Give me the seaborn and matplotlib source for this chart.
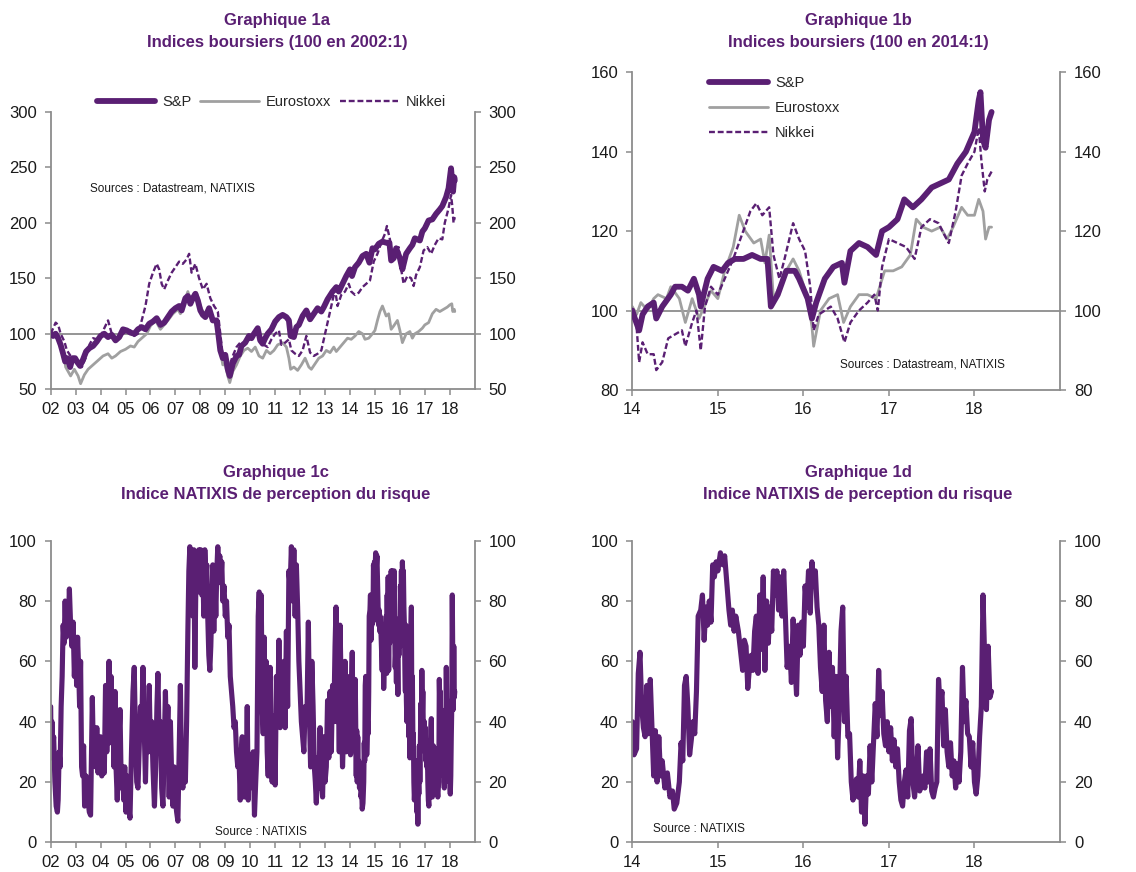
import pandas as pd
import seaborn as sns
import matplotlib.pyplot as plt

## Colours
PURPLE = '#5A1F73'
GREY = '#A0A0A0'
AXIS = '#8C8C8C'

## Graphique 1a : indices, 100 en 2002:1  (year, value)
sp_a = [(2002.00, 100), (2002.10, 98), (2002.20, 100), (2002.30, 96), (2002.40, 90), (2002.50, 82),
        (2002.58, 75), (2002.68, 78), (2002.78, 70), (2002.88, 78), (2002.98, 78), (2003.08, 74),
        (2003.18, 71), (2003.30, 77), (2003.42, 84), (2003.55, 87), (2003.70, 89), (2003.85, 93),
        (2004.00, 98), (2004.15, 100), (2004.30, 97), (2004.45, 99), (2004.60, 94), (2004.75, 97),
        (2004.90, 104), (2005.05, 103), (2005.20, 101), (2005.35, 100), (2005.50, 104), (2005.65, 106),
        (2005.80, 104), (2005.95, 109), (2006.10, 111), (2006.25, 114), (2006.40, 108), (2006.55, 110),
        (2006.70, 115), (2006.85, 120), (2007.00, 123), (2007.15, 125), (2007.25, 121), (2007.40, 132),
        (2007.50, 134), (2007.60, 127), (2007.70, 132), (2007.80, 136), (2007.90, 130), (2008.00, 121),
        (2008.10, 117), (2008.20, 115), (2008.35, 123), (2008.50, 112), (2008.65, 112), (2008.72, 100),
        (2008.80, 85), (2008.90, 78), (2009.00, 81), (2009.10, 68), (2009.18, 62), (2009.30, 73),
        (2009.45, 80), (2009.55, 81), (2009.65, 89), (2009.80, 92), (2009.95, 98), (2010.05, 96),
        (2010.15, 100), (2010.30, 105), (2010.40, 94), (2010.50, 91), (2010.60, 96), (2010.70, 100),
        (2010.85, 104), (2011.00, 111), (2011.15, 115), (2011.30, 117), (2011.45, 115), (2011.55, 112),
        (2011.62, 98), (2011.75, 97), (2011.85, 106), (2011.95, 108), (2012.10, 116), (2012.25, 121),
        (2012.40, 113), (2012.55, 118), (2012.70, 123), (2012.85, 120), (2012.95, 124), (2013.10, 131),
        (2013.30, 138), (2013.45, 142), (2013.55, 138), (2013.70, 145), (2013.85, 152), (2014.00, 158),
        (2014.08, 152), (2014.20, 160), (2014.35, 164), (2014.50, 170), (2014.65, 172), (2014.78, 164),
        (2014.90, 177), (2015.00, 176), (2015.15, 181), (2015.30, 183), (2015.45, 182), (2015.58, 182),
        (2015.65, 166), (2015.75, 168), (2015.85, 177), (2016.00, 168), (2016.10, 158), (2016.25, 172),
        (2016.40, 177), (2016.50, 180), (2016.60, 186), (2016.80, 184), (2016.90, 192), (2017.00, 195),
        (2017.15, 202), (2017.30, 203), (2017.45, 208), (2017.60, 212), (2017.70, 215), (2017.85, 223),
        (2017.95, 231), (2018.05, 249), (2018.10, 236), (2018.13, 228), (2018.18, 241), (2018.20, 238)]

euro_a = [(2002.00, 100), (2002.15, 101), (2002.30, 98), (2002.42, 90), (2002.50, 85), (2002.60, 70),
          (2002.70, 66), (2002.80, 62), (2002.95, 68), (2003.10, 62), (2003.20, 55), (2003.35, 63),
          (2003.50, 68), (2003.70, 72), (2003.90, 76), (2004.10, 80), (2004.30, 82), (2004.45, 78),
          (2004.60, 80), (2004.80, 84), (2005.00, 86), (2005.20, 89), (2005.35, 88), (2005.50, 93),
          (2005.70, 97), (2005.85, 100), (2006.00, 107), (2006.20, 112), (2006.40, 104), (2006.55, 108),
          (2006.70, 112), (2006.90, 118), (2007.10, 122), (2007.20, 118), (2007.35, 128), (2007.50, 138),
          (2007.60, 130), (2007.75, 136), (2007.85, 137), (2008.00, 125), (2008.15, 118), (2008.30, 122),
          (2008.45, 115), (2008.60, 110), (2008.72, 100), (2008.80, 85), (2008.90, 72), (2009.00, 72),
          (2009.10, 62), (2009.18, 56), (2009.30, 66), (2009.45, 72), (2009.60, 80), (2009.75, 85),
          (2009.90, 87), (2010.05, 84), (2010.20, 88), (2010.35, 80), (2010.50, 78), (2010.65, 85),
          (2010.80, 82), (2010.95, 85), (2011.10, 90), (2011.30, 92), (2011.45, 88), (2011.55, 78),
          (2011.62, 68), (2011.75, 70), (2011.90, 67), (2012.05, 72), (2012.20, 78), (2012.35, 70),
          (2012.45, 68), (2012.60, 73), (2012.75, 78), (2012.90, 80), (2013.05, 85), (2013.20, 83),
          (2013.35, 88), (2013.45, 84), (2013.60, 88), (2013.75, 92), (2013.90, 96), (2014.05, 95),
          (2014.20, 98), (2014.35, 102), (2014.50, 100), (2014.60, 95), (2014.75, 96), (2014.90, 100),
          (2015.00, 103), (2015.10, 112), (2015.20, 120), (2015.30, 125), (2015.45, 116), (2015.55, 118),
          (2015.65, 104), (2015.75, 107), (2015.90, 112), (2016.00, 103), (2016.10, 92), (2016.25, 100),
          (2016.40, 102), (2016.50, 96), (2016.60, 100), (2016.75, 102), (2016.90, 105), (2017.00, 108),
          (2017.15, 110), (2017.30, 118), (2017.45, 122), (2017.60, 120), (2017.75, 122), (2017.90, 124),
          (2018.00, 126), (2018.08, 127), (2018.12, 120), (2018.18, 122), (2018.20, 120)]

nikkei_a = [(2002.00, 100), (2002.10, 105), (2002.20, 110), (2002.30, 108), (2002.40, 100), (2002.55, 93),
            (2002.65, 85), (2002.80, 80), (2002.95, 78), (2003.10, 76), (2003.25, 70), (2003.40, 78),
            (2003.55, 90), (2003.70, 96), (2003.85, 95), (2004.00, 97), (2004.15, 105), (2004.30, 112),
            (2004.45, 100), (2004.60, 97), (2004.75, 96), (2004.90, 100), (2005.05, 102), (2005.20, 103),
            (2005.35, 98), (2005.50, 100), (2005.65, 112), (2005.80, 125), (2005.95, 145), (2006.10, 155),
            (2006.25, 163), (2006.35, 158), (2006.45, 145), (2006.55, 140), (2006.70, 148), (2006.85, 155),
            (2007.00, 160), (2007.15, 165), (2007.30, 163), (2007.45, 167), (2007.55, 172), (2007.65, 155),
            (2007.80, 163), (2007.95, 150), (2008.10, 140), (2008.25, 145), (2008.40, 132), (2008.55, 125),
            (2008.70, 120), (2008.80, 100), (2008.90, 80), (2009.00, 78), (2009.15, 70), (2009.30, 80),
            (2009.45, 88), (2009.60, 92), (2009.75, 90), (2009.90, 95), (2010.05, 96), (2010.25, 102),
            (2010.40, 95), (2010.55, 90), (2010.70, 88), (2010.85, 95), (2011.00, 100), (2011.15, 103),
            (2011.25, 90), (2011.40, 92), (2011.55, 95), (2011.65, 85), (2011.80, 82), (2011.95, 80),
            (2012.10, 85), (2012.25, 98), (2012.40, 83), (2012.55, 80), (2012.70, 82), (2012.85, 85),
            (2012.95, 95), (2013.10, 110), (2013.25, 125), (2013.40, 140), (2013.50, 125), (2013.65, 135),
            (2013.80, 138), (2013.95, 145), (2014.05, 138), (2014.20, 135), (2014.35, 137), (2014.50, 142),
            (2014.65, 145), (2014.80, 148), (2014.95, 165), (2015.10, 172), (2015.25, 182), (2015.40, 190),
            (2015.48, 197), (2015.60, 185), (2015.70, 165), (2015.80, 172), (2015.95, 178), (2016.05, 158),
            (2016.15, 145), (2016.30, 152), (2016.45, 150), (2016.55, 143), (2016.65, 153), (2016.80, 160),
            (2016.95, 175), (2017.10, 178), (2017.25, 172), (2017.40, 180), (2017.55, 186), (2017.70, 185),
            (2017.80, 200), (2017.95, 213), (2018.05, 225), (2018.10, 215), (2018.15, 200), (2018.20, 205)]

## Graphique 1b : indices, 100 en 2014:1
sp_b = [(2014.00, 100), (2014.03, 98), (2014.08, 95), (2014.12, 99), (2014.18, 101), (2014.25, 102),
        (2014.28, 98), (2014.35, 101), (2014.45, 104), (2014.50, 106), (2014.58, 106), (2014.65, 105),
        (2014.72, 108), (2014.78, 104), (2014.80, 101), (2014.88, 108), (2014.95, 111), (2015.05, 110),
        (2015.12, 112), (2015.20, 113), (2015.30, 113), (2015.40, 114), (2015.50, 113), (2015.58, 113),
        (2015.62, 101), (2015.70, 104), (2015.80, 110), (2015.90, 110), (2015.95, 108), (2016.05, 103),
        (2016.10, 98), (2016.15, 102), (2016.25, 108), (2016.35, 111), (2016.45, 112), (2016.48, 107),
        (2016.55, 115), (2016.65, 117), (2016.75, 116), (2016.85, 114), (2016.92, 120), (2017.00, 121),
        (2017.10, 123), (2017.18, 128), (2017.28, 126), (2017.38, 128), (2017.50, 131), (2017.60, 132),
        (2017.70, 133), (2017.80, 137), (2017.90, 140), (2018.00, 145), (2018.05, 153), (2018.07, 155),
        (2018.10, 143), (2018.13, 141), (2018.17, 148), (2018.20, 150)]

euro_b = [(2014.00, 101), (2014.05, 99), (2014.10, 102), (2014.18, 100), (2014.25, 103), (2014.30, 104),
          (2014.40, 103), (2014.45, 106), (2014.55, 103), (2014.62, 97), (2014.70, 103), (2014.78, 98),
          (2014.82, 100), (2014.92, 105), (2015.00, 103), (2015.08, 110), (2015.18, 116), (2015.25, 124),
          (2015.32, 120), (2015.42, 117), (2015.50, 118), (2015.55, 112), (2015.60, 119), (2015.65, 103),
          (2015.72, 106), (2015.80, 110), (2015.88, 113), (2015.95, 110), (2016.05, 103), (2016.10, 96),
          (2016.12, 91), (2016.20, 100), (2016.30, 103), (2016.40, 104), (2016.47, 97), (2016.55, 101),
          (2016.65, 104), (2016.75, 104), (2016.85, 103), (2016.95, 110), (2017.05, 110), (2017.15, 111),
          (2017.25, 114), (2017.32, 123), (2017.40, 121), (2017.50, 120), (2017.60, 121), (2017.68, 118),
          (2017.75, 121), (2017.85, 126), (2017.92, 124), (2018.00, 124), (2018.05, 128), (2018.10, 125),
          (2018.13, 118), (2018.17, 121), (2018.20, 121)]

nikkei_b = [(2014.00, 100), (2014.05, 96), (2014.08, 87), (2014.12, 92), (2014.18, 89), (2014.25, 89),
            (2014.28, 85), (2014.35, 87), (2014.42, 93), (2014.50, 94), (2014.58, 95), (2014.62, 91),
            (2014.70, 97), (2014.75, 100), (2014.80, 90), (2014.85, 101), (2014.92, 106), (2015.00, 104),
            (2015.08, 108), (2015.18, 113), (2015.28, 119), (2015.38, 125), (2015.45, 127), (2015.52, 124),
            (2015.60, 126), (2015.65, 114), (2015.72, 108), (2015.78, 113), (2015.88, 122), (2015.95, 118),
            (2016.02, 115), (2016.08, 106), (2016.12, 95), (2016.18, 99), (2016.25, 100), (2016.32, 101),
            (2016.40, 98), (2016.48, 92), (2016.55, 97), (2016.65, 100), (2016.75, 102), (2016.83, 104),
            (2016.87, 100), (2016.92, 111), (2017.00, 118), (2017.10, 117), (2017.20, 116), (2017.30, 113),
            (2017.38, 121), (2017.48, 123), (2017.58, 122), (2017.65, 119), (2017.70, 117), (2017.78, 125),
            (2017.85, 134), (2017.92, 137), (2018.00, 140), (2018.05, 146), (2018.08, 138), (2018.12, 130),
            (2018.15, 133), (2018.20, 135)]

## Indice NATIXIS de perception du risque (1c uses all, 1d from 2014)
risk = [(2002.00, 45), (2002.02, 28), (2002.05, 40), (2002.08, 30), (2002.12, 35), (2002.17, 20),
        (2002.22, 12), (2002.27, 10), (2002.30, 14), (2002.34, 30), (2002.38, 25), (2002.42, 45),
        (2002.46, 55), (2002.50, 72), (2002.54, 66), (2002.58, 80), (2002.62, 68), (2002.66, 78),
        (2002.70, 70), (2002.75, 84), (2002.80, 72), (2002.85, 65), (2002.90, 73), (2002.95, 55),
        (2003.00, 68), (2003.04, 52), (2003.08, 68), (2003.12, 58), (2003.16, 45), (2003.20, 60),
        (2003.24, 25), (2003.28, 22), (2003.32, 32), (2003.36, 12), (2003.42, 22), (2003.48, 15),
        (2003.55, 10), (2003.60, 9), (2003.63, 25), (2003.67, 48), (2003.71, 30), (2003.75, 38),
        (2003.80, 25), (2003.85, 38), (2003.90, 23), (2003.95, 30), (2004.00, 35), (2004.05, 22),
        (2004.10, 32), (2004.15, 23), (2004.20, 52), (2004.25, 30), (2004.30, 45), (2004.34, 60),
        (2004.38, 33), (2004.42, 55), (2004.46, 40), (2004.50, 48), (2004.54, 25), (2004.58, 50),
        (2004.62, 25), (2004.67, 14), (2004.72, 30), (2004.78, 44), (2004.83, 18), (2004.88, 25),
        (2004.93, 14), (2004.97, 25), (2005.02, 10), (2005.06, 22), (2005.12, 12), (2005.18, 8),
        (2005.24, 30), (2005.30, 50), (2005.35, 58), (2005.40, 35), (2005.45, 20), (2005.50, 18),
        (2005.55, 32), (2005.60, 45), (2005.65, 38), (2005.70, 58), (2005.75, 38), (2005.80, 20),
        (2005.85, 38), (2005.90, 30), (2005.95, 52), (2006.00, 30), (2006.05, 40), (2006.10, 25),
        (2006.16, 12), (2006.21, 25), (2006.26, 45), (2006.30, 56), (2006.35, 33), (2006.40, 40),
        (2006.45, 18), (2006.50, 12), (2006.55, 30), (2006.60, 50), (2006.65, 30), (2006.70, 45),
        (2006.75, 15), (2006.80, 40), (2006.85, 22), (2006.90, 12), (2006.95, 25), (2007.00, 14),
        (2007.05, 10), (2007.10, 7), (2007.15, 30), (2007.20, 52), (2007.25, 22), (2007.30, 18),
        (2007.35, 30), (2007.40, 20), (2007.45, 40), (2007.50, 70), (2007.54, 90), (2007.58, 98),
        (2007.62, 85), (2007.66, 95), (2007.70, 75), (2007.74, 97), (2007.78, 58), (2007.82, 85),
        (2007.86, 95), (2007.90, 83), (2007.94, 97), (2007.98, 88), (2008.02, 97), (2008.06, 82),
        (2008.10, 90), (2008.14, 75), (2008.18, 97), (2008.22, 88), (2008.26, 92), (2008.30, 74),
        (2008.34, 62), (2008.38, 57), (2008.42, 65), (2008.46, 78), (2008.50, 92), (2008.54, 70),
        (2008.58, 88), (2008.62, 75), (2008.66, 90), (2008.70, 98), (2008.74, 90), (2008.78, 95),
        (2008.82, 86), (2008.86, 93), (2008.90, 80), (2008.95, 85), (2009.00, 75), (2009.05, 80),
        (2009.10, 68), (2009.15, 72), (2009.20, 55), (2009.25, 50), (2009.30, 45), (2009.35, 38),
        (2009.40, 40), (2009.45, 30), (2009.50, 25), (2009.55, 28), (2009.60, 14), (2009.64, 30),
        (2009.68, 35), (2009.72, 20), (2009.76, 15), (2009.80, 25), (2009.84, 20), (2009.88, 45),
        (2009.92, 14), (2009.96, 28), (2010.00, 18), (2010.04, 25), (2010.08, 20), (2010.12, 30),
        (2010.17, 9), (2010.22, 20), (2010.27, 30), (2010.32, 75), (2010.36, 83), (2010.40, 60),
        (2010.44, 82), (2010.48, 45), (2010.52, 36), (2010.56, 68), (2010.60, 40), (2010.64, 60),
        (2010.68, 30), (2010.72, 22), (2010.76, 45), (2010.80, 58), (2010.84, 30), (2010.88, 20),
        (2010.92, 42), (2010.96, 35), (2011.00, 19), (2011.05, 55), (2011.10, 40), (2011.15, 67),
        (2011.20, 38), (2011.25, 55), (2011.30, 45), (2011.35, 60), (2011.40, 38), (2011.45, 70),
        (2011.50, 45), (2011.55, 90), (2011.60, 85), (2011.65, 98), (2011.70, 80), (2011.75, 97),
        (2011.80, 75), (2011.85, 92), (2011.90, 78), (2011.95, 60), (2012.00, 50), (2012.05, 40),
        (2012.10, 35), (2012.15, 30), (2012.20, 45), (2012.27, 40), (2012.33, 73), (2012.38, 40),
        (2012.42, 25), (2012.47, 60), (2012.52, 45), (2012.57, 25), (2012.61, 20), (2012.65, 13),
        (2012.70, 28), (2012.75, 18), (2012.80, 38), (2012.85, 20), (2012.90, 15), (2012.95, 35),
        (2013.00, 20), (2013.05, 25), (2013.10, 47), (2013.15, 28), (2013.20, 50), (2013.25, 30),
        (2013.30, 52), (2013.35, 40), (2013.40, 65), (2013.44, 78), (2013.48, 40), (2013.53, 60),
        (2013.57, 30), (2013.60, 72), (2013.65, 50), (2013.70, 25), (2013.75, 38), (2013.80, 60),
        (2013.85, 30), (2013.90, 55), (2013.95, 42),
        (2014.00, 40), (2014.02, 29), (2014.05, 31), (2014.07, 56), (2014.09, 63), (2014.11, 45),
        (2014.13, 38), (2014.15, 35), (2014.17, 52), (2014.19, 36), (2014.21, 54), (2014.23, 38),
        (2014.25, 22), (2014.27, 37), (2014.29, 20), (2014.31, 35), (2014.33, 22), (2014.35, 27),
        (2014.38, 18), (2014.41, 23), (2014.44, 15), (2014.47, 17), (2014.49, 11), (2014.52, 13),
        (2014.55, 20), (2014.57, 33), (2014.59, 27), (2014.61, 52), (2014.63, 55), (2014.65, 45),
        (2014.67, 29), (2014.69, 34), (2014.71, 40), (2014.73, 36), (2014.75, 50), (2014.77, 75),
        (2014.80, 77), (2014.82, 82), (2014.84, 67), (2014.86, 78), (2014.88, 72), (2014.90, 80),
        (2014.92, 73), (2014.94, 92), (2014.96, 88), (2014.98, 93), (2015.00, 90), (2015.03, 96),
        (2015.06, 92), (2015.08, 95), (2015.11, 84), (2015.13, 77), (2015.15, 72), (2015.17, 77),
        (2015.19, 70), (2015.21, 75), (2015.24, 70), (2015.27, 62), (2015.29, 57), (2015.31, 67),
        (2015.33, 65), (2015.35, 51), (2015.37, 58), (2015.39, 62), (2015.41, 57), (2015.43, 70),
        (2015.45, 75), (2015.47, 56), (2015.49, 82), (2015.51, 64), (2015.53, 88), (2015.55, 57),
        (2015.57, 80), (2015.59, 66), (2015.61, 78), (2015.63, 70), (2015.65, 90), (2015.67, 82),
        (2015.69, 90), (2015.71, 77), (2015.73, 88), (2015.75, 75), (2015.77, 90), (2015.79, 75),
        (2015.81, 58), (2015.84, 65), (2015.86, 53), (2015.88, 74), (2015.90, 60), (2015.92, 49),
        (2015.94, 72), (2015.96, 62), (2015.98, 73), (2016.00, 65), (2016.02, 85), (2016.04, 78),
        (2016.06, 90), (2016.08, 76), (2016.10, 93), (2016.12, 86), (2016.14, 90), (2016.16, 78),
        (2016.18, 72), (2016.20, 58), (2016.22, 50), (2016.24, 72), (2016.26, 47), (2016.28, 40),
        (2016.30, 63), (2016.32, 45), (2016.34, 58), (2016.36, 35), (2016.38, 55), (2016.40, 28),
        (2016.42, 45), (2016.44, 70), (2016.46, 78), (2016.48, 40), (2016.50, 55), (2016.52, 35),
        (2016.54, 36), (2016.56, 20), (2016.58, 14), (2016.60, 18), (2016.62, 21), (2016.64, 15),
        (2016.66, 27), (2016.68, 10), (2016.70, 22), (2016.72, 6), (2016.74, 22), (2016.76, 16),
        (2016.78, 32), (2016.80, 20), (2016.82, 33), (2016.84, 46), (2016.86, 35), (2016.88, 57),
        (2016.90, 42), (2016.92, 50), (2016.94, 36), (2016.96, 32), (2016.98, 40), (2017.00, 30),
        (2017.02, 38), (2017.04, 27), (2017.06, 34), (2017.08, 25), (2017.10, 31), (2017.12, 20),
        (2017.14, 14), (2017.16, 12), (2017.18, 20), (2017.20, 24), (2017.22, 15), (2017.24, 37),
        (2017.26, 41), (2017.28, 20), (2017.30, 15), (2017.32, 22), (2017.34, 32), (2017.36, 17),
        (2017.38, 20), (2017.40, 22), (2017.42, 18), (2017.44, 30), (2017.46, 20), (2017.48, 31),
        (2017.50, 17), (2017.52, 15), (2017.54, 18), (2017.56, 20), (2017.58, 54), (2017.60, 45),
        (2017.62, 50), (2017.64, 32), (2017.66, 44), (2017.68, 30), (2017.70, 25), (2017.72, 33),
        (2017.74, 22), (2017.76, 27), (2017.78, 18), (2017.80, 26), (2017.82, 20), (2017.84, 30),
        (2017.86, 58), (2017.88, 40), (2017.90, 47), (2017.92, 36), (2017.94, 35), (2017.96, 25),
        (2017.98, 33), (2018.00, 20), (2018.02, 16), (2018.04, 22), (2018.06, 35), (2018.08, 45),
        (2018.10, 82), (2018.12, 60), (2018.14, 44), (2018.16, 65), (2018.18, 48), (2018.20, 50)]

years_a = list(range(2002, 2019))
labels_a = [f"{y % 100:02d}" for y in years_a]
years_b = list(range(2014, 2019))
labels_b = [f"{y % 100:02d}" for y in years_b]


def frame(pairs):
    return pd.DataFrame(pairs, columns=['t', 'v'])


def style_axis(ax, xlim, xticks, xlabels, ylim, yticks):
    ax.set_xlim(xlim)
    ax.set_ylim(ylim)
    ax.set_xticks(xticks)
    ax.set_xticklabels(xlabels)
    ax.set_yticks(yticks)
    ax.set_xlabel('')
    ax.set_ylabel('')
    for side in ['left', 'right', 'bottom']:
        ax.spines[side].set_visible(True)
        ax.spines[side].set_color(AXIS)
        ax.spines[side].set_linewidth(1.3)
    ax.spines['top'].set_visible(False)
    ax.tick_params(axis='y', left=True, right=True, labelleft=True, labelright=True,
                   direction='out', length=4, width=1.1, color=AXIS, labelsize=12,
                   labelcolor='#1a1a1a', pad=6)
    ax.tick_params(axis='x', bottom=True, direction='out', length=4, width=1.1,
                   color=AXIS, labelsize=12, labelcolor='#1a1a1a', pad=5)
    ax.grid(False)


sns.set_style('white')
plt.rcParams['font.family'] = ['Liberation Sans', 'DejaVu Sans']

fig = plt.figure(figsize=(11.36, 8.72), dpi=100)

ax_a = fig.add_axes([0.0446, 0.5536, 0.3733, 0.3183])
ax_b = fig.add_axes([0.5566, 0.5528, 0.3765, 0.3643])
ax_c = fig.add_axes([0.0446, 0.0341, 0.3733, 0.3458])
ax_d = fig.add_axes([0.5566, 0.0341, 0.3765, 0.3458])

## Graphique 1a
ax_a.axhline(100, color=AXIS, lw=1.3, zorder=1)
sns.lineplot(data=frame(euro_a), x='t', y='v', ax=ax_a, color=GREY, lw=2.0,
             estimator=None, sort=False, label='Eurostoxx', zorder=2)
sns.lineplot(data=frame(nikkei_a), x='t', y='v', ax=ax_a, color=PURPLE, lw=1.7,
             estimator=None, sort=False, label='Nikkei', zorder=3)
sns.lineplot(data=frame(sp_a), x='t', y='v', ax=ax_a, color=PURPLE, lw=4.2,
             estimator=None, sort=False, label='S&P', zorder=4)
ax_a.lines[2].set_dashes((2.5, 1.2))
style_axis(ax_a, (2002, 2019), years_a, labels_a, (50, 300), range(50, 301, 50))
h, l = ax_a.get_legend_handles_labels()
order = [l.index('S&P'), l.index('Eurostoxx'), l.index('Nikkei')]
ax_a.legend([h[i] for i in order], [l[i] for i in order], ncol=3, frameon=False,
            loc='center', bbox_to_anchor=(0.52, 1.035), fontsize=10.5,
            handlelength=4.0, handletextpad=0.5, columnspacing=0.6, borderpad=0)
ax_a.text(0.093, 0.725, 'Sources : Datastream, NATIXIS', transform=ax_a.transAxes,
          fontsize=8.5, ha='left', va='center', color='#1a1a1a')

## Graphique 1b
ax_b.axhline(100, color=AXIS, lw=1.3, zorder=1)
sns.lineplot(data=frame(euro_b), x='t', y='v', ax=ax_b, color=GREY, lw=2.0,
             estimator=None, sort=False, label='Eurostoxx', zorder=2)
sns.lineplot(data=frame(nikkei_b), x='t', y='v', ax=ax_b, color=PURPLE, lw=1.7,
             estimator=None, sort=False, label='Nikkei', zorder=3)
sns.lineplot(data=frame(sp_b), x='t', y='v', ax=ax_b, color=PURPLE, lw=4.2,
             estimator=None, sort=False, label='S&P', zorder=4)
ax_b.lines[2].set_dashes((2.5, 1.2))
style_axis(ax_b, (2014, 2019), years_b, labels_b, (80, 160), range(80, 161, 20))
h, l = ax_b.get_legend_handles_labels()
order = [l.index('S&P'), l.index('Eurostoxx'), l.index('Nikkei')]
ax_b.legend([h[i] for i in order], [l[i] for i in order], frameon=False,
            loc='upper left', bbox_to_anchor=(0.163, 1.01), fontsize=10.5,
            handlelength=4.0, handletextpad=0.5, labelspacing=0.75, borderpad=0)
ax_b.text(0.486, 0.079, 'Sources : Datastream, NATIXIS', transform=ax_b.transAxes,
          fontsize=8.5, ha='left', va='center', color='#1a1a1a')

## Graphique 1c et 1d
risk_df = frame(risk)
sns.lineplot(data=risk_df, x='t', y='v', ax=ax_c, color=PURPLE, lw=3.7,
             estimator=None, sort=False)
style_axis(ax_c, (2002, 2019), years_a, labels_a, (0, 100), range(0, 101, 20))
ax_c.text(0.388, 0.035, 'Source : NATIXIS', transform=ax_c.transAxes,
          fontsize=8.5, ha='left', va='center', color='#1a1a1a')

sns.lineplot(data=risk_df[risk_df['t'] >= 2014], x='t', y='v', ax=ax_d, color=PURPLE,
             lw=3.7, estimator=None, sort=False)
style_axis(ax_d, (2014, 2019), years_b, labels_b, (0, 100), range(0, 101, 20))
ax_d.text(0.049, 0.043, 'Source : NATIXIS', transform=ax_d.transAxes,
          fontsize=8.5, ha='left', va='center', color='#1a1a1a')

## Titles
titles = [(0.2438, 'Graphique 1a', 'Indices boursiers (100 en 2002:1)', 0),
          (0.7553, 'Graphique 1b', 'Indices boursiers (100 en 2014:1)', 0),
          (0.2430, 'Graphique 1c', 'Indice NATIXIS de perception du risque', 452),
          (0.7553, 'Graphique 1d', 'Indice NATIXIS de perception du risque', 452)]
for x, t1, t2, dy in titles:
    fig.text(x, 1 - (20 + dy) / 872, t1, ha='center', va='center', fontsize=12,
             fontweight='bold', color=PURPLE)
    fig.text(x, 1 - (42 + dy) / 872, t2, ha='center', va='center', fontsize=12,
             fontweight='bold', color=PURPLE)

fig.savefig('out.png', dpi=100)
